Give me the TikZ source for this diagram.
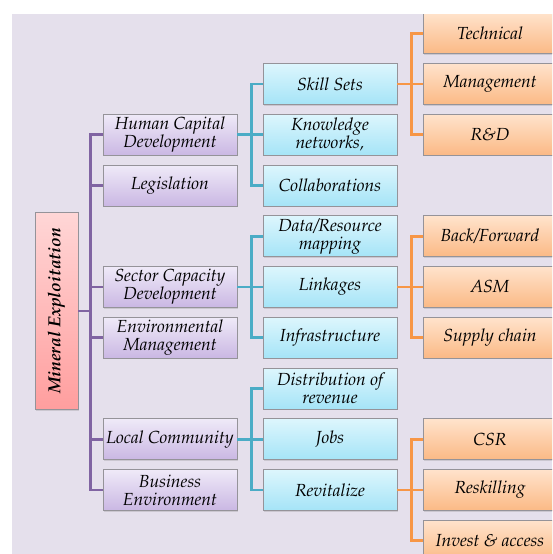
\documentclass[tikz,border=0pt]{standalone}
\usepackage[T1]{fontenc}
\usepackage{mathpazo}
\usetikzlibrary{shadows}

\definecolor{bgcol}{HTML}{E5E0EC}
\definecolor{plinecol}{HTML}{8064A2}
\definecolor{tlinecol}{HTML}{4BACC6}
\definecolor{olinecol}{HTML}{F79646}
\definecolor{boxedge}{HTML}{959399}
\definecolor{ptop}{HTML}{EFEAF8}
\definecolor{pbot}{HTML}{CAB7E3}
\definecolor{ttop}{HTML}{DDF6FD}
\definecolor{tbot}{HTML}{A5E4F7}
\definecolor{otop}{HTML}{FFE3CC}
\definecolor{obot}{HTML}{FBB985}
\definecolor{rtop}{HTML}{FFD6D6}
\definecolor{rbot}{HTML}{FF9E9E}

\begin{document}
\begin{tikzpicture}[x=1pt,y=-1pt,
    box/.style={draw=boxedge,line width=0.7pt,minimum width=134pt,minimum height=41pt,
      inner sep=1pt,align=center,font=\fontsize{17.5}{18}\selectfont\itshape,
      drop shadow={shadow xshift=1pt,shadow yshift=-1.2pt,opacity=0.25}},
    rootbox/.style={box,minimum width=197pt,minimum height=43pt,rotate=90,
      top color=rtop,bottom color=rbot,font=\fontsize{17.5}{18}\selectfont\bfseries\itshape},
    pbox/.style={box,top color=ptop,bottom color=pbot},
    tbox/.style={box,top color=ttop,bottom color=tbot},
    obox/.style={box,top color=otop,bottom color=obot},
    pline/.style={plinecol,line width=2.6pt},
    tline/.style={tlinecol,line width=2.6pt},
    oline/.style={olinecol,line width=2.6pt}]

  \useasboundingbox (0,0) rectangle (552,554);
  \fill[bgcol] (12,14) rectangle (552,554);
  \clip (12,14) rectangle (552,554);

  % root
  \node[rootbox] (root) at (56.5,311) {Mineral Exploitation};

  % first level
  \node[pbox] (hc)    at (170,134.75) {Human Capital\\Development};
  \node[pbox] (legis) at (170,185.5)  {Legislation};
  \node[pbox] (sc)    at (170,287)    {Sector Capacity\\Development};
  \node[pbox] (env)   at (170,337.75) {Environmental\\Management};
  \node[pbox] (lc)    at (170,439.25) {Local Community};
  \node[pbox] (be)    at (170,490)    {Business\\Environment};

  % second level
  \node[tbox] (skill)  at (330,84)     {Skill Sets};
  \node[tbox] (know)   at (330,134.75) {Knowledge\\networks,};
  \node[tbox] (collab) at (330,185.5)  {Collaborations};
  \node[tbox] (data)   at (330,236.25) {Data/Resource\\mapping};
  \node[tbox] (link)   at (330,287)    {Linkages};
  \node[tbox] (infra)  at (330,337.75) {Infrastructure};
  \node[tbox] (dist)   at (330,388.5)  {Distribution of\\revenue};
  \node[tbox] (jobs)   at (330,439.25) {Jobs};
  \node[tbox] (revit)  at (330,490)    {Revitalize};

  % third level
  \node[obox] (tech)   at (490,33.25)  {Technical};
  \node[obox] (mgmt)   at (490,84)     {Management};
  \node[obox] (rnd)    at (490,134.75) {R\&D};
  \node[obox] (back)   at (490,236.25) {Back/Forward};
  \node[obox] (asm)    at (490,287)    {ASM};
  \node[obox] (supply) at (490,337.75) {Supply chain};
  \node[obox] (csr)    at (490,439.25) {CSR};
  \node[obox] (reskl)  at (490,490)    {Reskilling};
  \node[obox] (invest) at (490,540.75) {Invest \& access};

  % connectors
  \foreach \c in {hc,legis,sc,env,lc,be}
    \draw[pline] (root.south) -- ++(12,0) |- (\c.west);
  \foreach \c in {skill,know,collab}
    \draw[tline] (hc.east) -- ++(14,0) |- (\c.west);
  \foreach \c in {data,link,infra}
    \draw[tline] (sc.east) -- ++(14,0) |- (\c.west);
  \foreach \c in {dist,jobs,revit}
    \draw[tline] (lc.east) -- ++(14,0) |- (\c.west);
  \foreach \c in {tech,mgmt,rnd}
    \draw[oline] (skill.east) -- ++(14,0) |- (\c.west);
  \foreach \c in {back,asm,supply}
    \draw[oline] (link.east) -- ++(14,0) |- (\c.west);
  \foreach \c in {csr,reskl,invest}
    \draw[oline] (revit.east) -- ++(14,0) |- (\c.west);
\end{tikzpicture}
\end{document}
